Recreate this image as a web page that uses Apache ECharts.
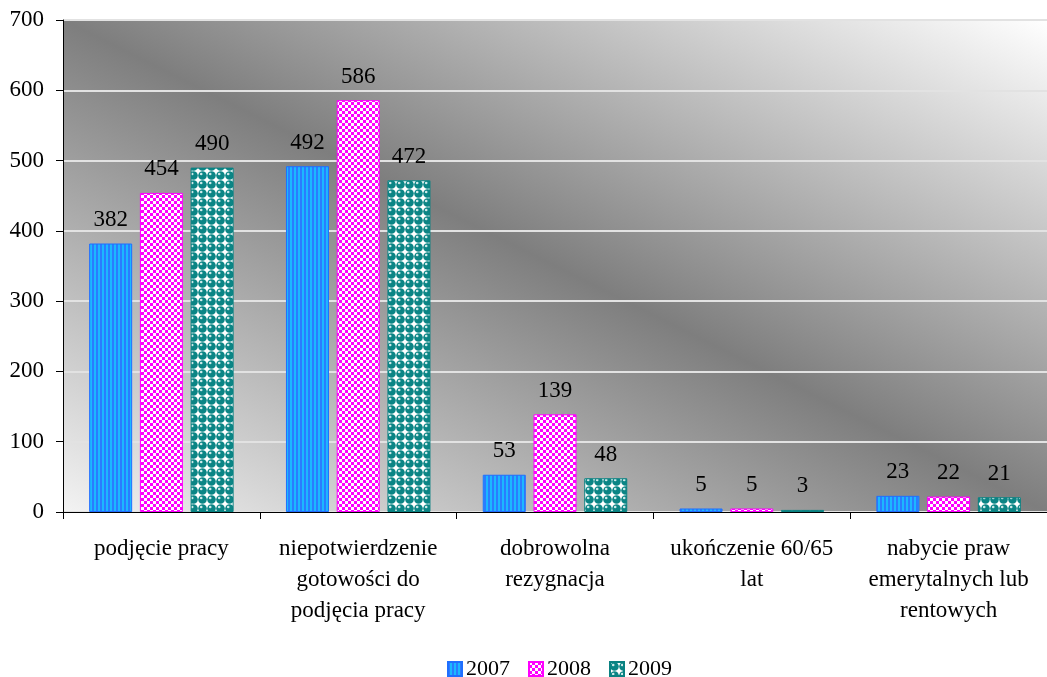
<!DOCTYPE html>
<html>
<head>
<meta charset="utf-8">
<script src="https://cdn.jsdelivr.net/npm/echarts@6/dist/echarts.min.js"></script>
<style>
  html, body { margin: 0; padding: 0; background: #ffffff; }
  #chart { width: 1047px; height: 677px; }
</style>
</head>
<body>
<div id="chart"></div>
<script>
// Reasons for deregistration, 2007–2009
const categories = [
  'podjęcie pracy',
  'niepotwierdzenie\ngotowości do\npodjęcia pracy',
  'dobrowolna\nrezygnacja',
  'ukończenie 60/65\nlat',
  'nabycie praw\nemerytalnych lub\nrentowych'
];
const years = ['2007', '2008', '2009'];
const values2007 = [382, 492, 53, 5, 23];
const values2008 = [454, 586, 139, 5, 22];
const values2009 = [490, 472, 48, 3, 21];
const yTicks = { min: 0, max: 700, step: 100 };

const FONT = '"Liberation Serif", "Times New Roman", serif';

// Fill patterns for the bars
function makeTile(w, h, draw) {
  const c = document.createElement('canvas');
  c.width = w; c.height = h;
  draw(c.getContext('2d'));
  return c;
}
// vertical blue stripes
const stripeTile = makeTile(4, 4, g => {
  g.fillStyle = '#2a7cff'; g.fillRect(0, 0, 4, 4);
  g.fillStyle = '#1cb8ff'; g.fillRect(2, 0, 2, 4);
});
// magenta / white checkerboard
const checkTile = makeTile(6, 6, g => {
  g.fillStyle = '#ff00ff'; g.fillRect(0, 0, 6, 6);
  g.fillStyle = '#ffffff';
  g.fillRect(0, 0, 3, 3);
  g.fillRect(3, 3, 3, 3);
});
// teal spheres with highlights on white
const sphereTile = makeTile(9, 9, g => {
  g.fillStyle = '#ffffff'; g.fillRect(0, 0, 9, 9);
  g.fillStyle = '#0b8585';
  g.beginPath(); g.arc(4.5, 4.5, 4.3, 0, Math.PI * 2); g.fill();
  g.fillStyle = '#cfeaea';
  g.beginPath(); g.arc(3.2, 3.0, 1.3, 0, Math.PI * 2); g.fill();
});

const fills = [
  { image: stripeTile, repeat: 'repeat' },
  { image: checkTile, repeat: 'repeat' },
  { image: sphereTile, repeat: 'repeat' }
];
const borders = ['#1f6fff', '#ff00ff', '#0a8282'];
const seriesValues = [values2007, values2008, values2009];

const chart = echarts.init(document.getElementById('chart'), null, { renderer: 'canvas' });

chart.setOption({
  animation: false,
  textStyle: { fontFamily: FONT },
  grid: {
    left: 63, right: 0, top: 20, bottom: 165,
    show: true,
    borderWidth: 0,
    backgroundColor: {
      type: 'linear',
      x: 358, y: 660, x2: 752, y2: -128,
      global: true,
      colorStops: [
        { offset: 0, color: '#f3f3f3' },
        { offset: 0.5, color: '#7e7e7e' },
        { offset: 1, color: '#ffffff' }
      ]
    }
  },
  legend: {
    data: years,
    left: 447,
    top: 658,
    padding: 0,
    itemWidth: 14,
    itemHeight: 14,
    itemGap: 18,
    icon: 'rect',
    textStyle: { fontFamily: FONT, fontSize: 22, color: '#000', padding: [0, 0, 0, -1] }
  },
  xAxis: {
    type: 'category',
    data: categories,
    axisLine: { lineStyle: { color: '#000', width: 1 } },
    axisTick: { show: true, length: 7, lineStyle: { color: '#000' } },
    axisLabel: {
      interval: 0,
      margin: 21,
      color: '#000',
      fontFamily: FONT,
      fontSize: 23,
      lineHeight: 31
    },
    splitLine: { show: false }
  },
  yAxis: {
    type: 'value',
    min: yTicks.min,
    max: yTicks.max,
    interval: yTicks.step,
    axisLine: { show: true, lineStyle: { color: '#000', width: 1 } },
    axisTick: { show: true, length: 7, lineStyle: { color: '#000' } },
    axisLabel: { margin: 19, color: '#000', fontFamily: FONT, fontSize: 23 },
    splitLine: { show: true, lineStyle: { color: '#e2e2e2', width: 2 } }
  },
  series: years.map((y, i) => ({
    name: y,
    type: 'bar',
    data: seriesValues[i],
    barWidth: 43,
    barGap: '18%',
    itemStyle: { color: fills[i], borderColor: borders[i], borderWidth: 1 },
    label: {
      show: true,
      position: 'top',
      distance: 12,
      color: '#000',
      fontFamily: FONT,
      fontSize: 23
    }
  }))
});
</script>
</body>
</html>
